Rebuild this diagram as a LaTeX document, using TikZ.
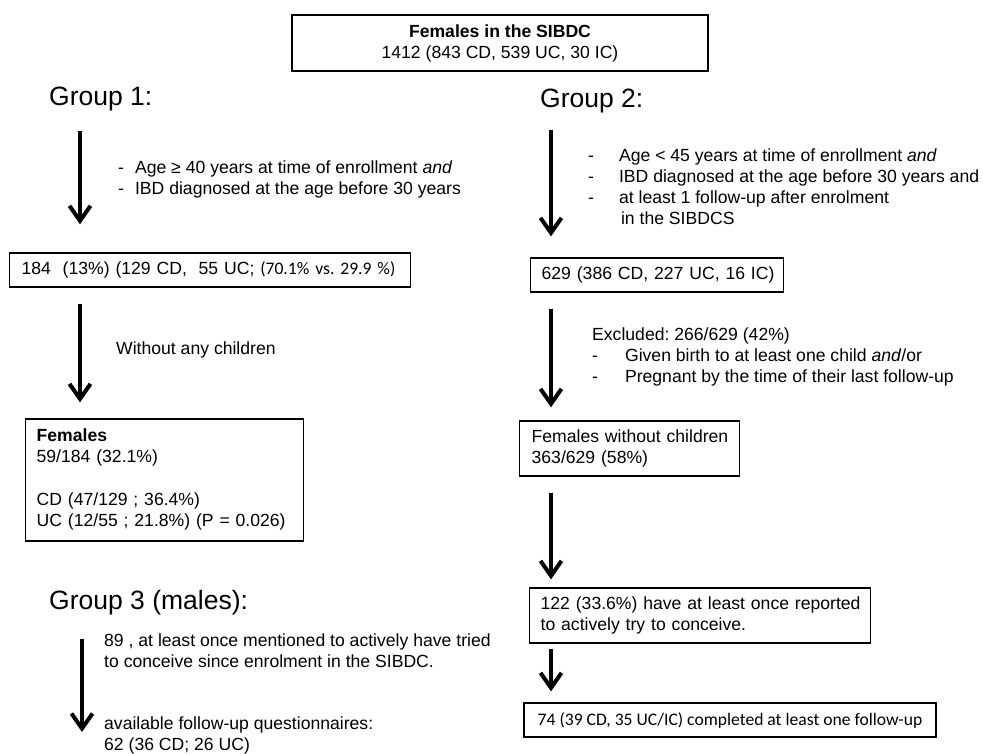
\documentclass[tikz,border=0pt]{standalone}
\usepackage{fontspec}
\setmainfont{Liberation Sans}
\newfontfamily\calibrifont{Carlito}
\usetikzlibrary{arrows.meta}
\frenchspacing

\tikzset{
  box/.style={draw, rectangle, line width=1.3pt, inner ysep=0pt, align=left},
  downarrow/.style={-{Straight Barb[length=15pt, width=21pt]}, line width=4pt},
  grouptitle/.style={anchor=west, inner sep=0pt, font=\fontsize{26.5}{32}\selectfont},
  note/.style={anchor=west, inner sep=0pt, align=left},
}

\begin{document}
\begin{tikzpicture}[x=1pt, y=-1pt, font=\fontsize{17.6}{21}\selectfont]

\useasboundingbox (0,0) rectangle (983,753);

\def \leftx {80}
\def \rightx {551}
\coordinate (leftcol) at (\leftx,0);
\coordinate (rightcol) at (\rightx,0);
\coordinate (malecol) at (82,0);

  \node[box, align=center, minimum width=416pt, minimum height=56pt] (sibdc) at (500,43)
    {\textbf{Females in the SIBDC}\\1412 (843 CD, 539 UC, 30 IC)};
%
  \node[grouptitle] (groupone) at (49,99) {Group 1:};
  \node[note] (critone) at (118,179.5) {\begin{tabular}{@{}l@{\hspace{11pt}}l@{}}
    - & Age ≥ 40 years at time of enrollment \textit{and}\\
    - & IBD diagnosed at the age before 30 years\end{tabular}};
  \node[box, anchor=west, text width=377pt, inner xsep=12pt, minimum height=34pt] (cohortone) at (9,270)
    {\begin{tabular}{@{}l@{}}184\ \ (13\%) (129 CD,\ \ 55 UC; {\calibrifont (70.1\% vs. 29.9 \%)}\end{tabular}};
  \node[note] (nochild) at (116,350) {Without any children};
  \node[box, anchor=west, text width=256pt, inner xsep=11pt, minimum height=122pt] (femone) at (25,480)
    {\begin{tabular}{@{}l@{}}\textbf{Females}\\59/184 (32.1\%)\\[22pt]
     CD (47/129 ; 36.4\%)\\UC (12/55 ; 21.8\%) (P = 0.026)\end{tabular}};
  \draw[downarrow, shorten <=20pt, shorten >=28pt] (groupone.south -| leftcol) -- (cohortone.north -| leftcol);
  \draw[downarrow, shorten <=16pt, shorten >=16pt] (cohortone.south -| leftcol) -- (femone.north -| leftcol);
%
  \node[grouptitle] (grouptwo) at (540,101) {Group 2:};
  \node[note] (crittwo) at (588,188.5) {\begin{tabular}{@{}l@{\hspace{25pt}}l@{}}
    - & Age < 45 years at time of enrollment \textit{and}\\
    - & IBD diagnosed at the age before 30 years and\\
    - & at least 1 follow-up after enrolment\\
      & \hspace{2pt}in the SIBDCS\end{tabular}};
  \node[box, anchor=west, text width=231pt, inner xsep=11pt, minimum height=34pt] (cohorttwo) at (530,275)
    {\begin{tabular}{@{}l@{}}629 (386 CD, 227 UC, 16 IC)\end{tabular}};
  \node[note] (excluded) at (592,357) {\begin{tabular}{@{}l@{\hspace{27pt}}l@{}}
    \multicolumn{2}{@{}l@{}}{Excluded: 266/629 (42\%)}\\
    - & Given birth to at least one child \textit{and}/or\\
    - & Pregnant by the time of their last follow-up\end{tabular}};
  \node[box, anchor=west, text width=196pt, inner xsep=12pt, minimum height=55pt] (femtwo) at (519,448.5)
    {\begin{tabular}{@{}l@{}}Females without children\\363/629 (58\%)\end{tabular}};
  \node[box, anchor=west, text width=319pt, inner xsep=11pt, minimum height=55pt] (tryers) at (529,615.5)
    {\begin{tabular}{@{}l@{}}122 (33.6\%) have at least once reported\\to actively try to conceive.\end{tabular}};
  \node[box, minimum width=412pt, minimum height=34pt] (followup) at (730,720)
    {\calibrifont 74 (39 CD, 35 UC/IC) completed at least one follow-up};
  \draw[downarrow, shorten <=16.5pt, shorten >=21pt] (grouptwo.south -| rightcol) -- (cohorttwo.north -| rightcol);
  \draw[downarrow, shorten <=16pt, shorten >=13pt] (cohorttwo.south -| rightcol) -- (femtwo.north -| rightcol);
  \draw[downarrow, shorten <=16pt, shorten >=8pt] (femtwo.south -| rightcol) -- (tryers.north -| rightcol);
  \draw[downarrow, shorten <=5pt, shorten >=11pt] (tryers.south -| rightcol) -- (followup.north -| rightcol);
%
  \node[grouptitle] (groupthree) at (49,602.5) {Group 3 (males):};
  \node[note] (tried) at (104,652.5) {\begin{tabular}{@{}l@{}}89 , at least once mentioned to actively have tried\\
    to conceive since enrolment in the SIBDC.\end{tabular}};
  \node[note] (males) at (104,736) {\begin{tabular}{@{}l@{}}available follow-up questionnaires:\\
    62 (36 CD; 26 UC)\end{tabular}};
  \draw[downarrow, shorten <=24pt, shorten >=4pt] (groupthree.south -| malecol) -- (males.west -| malecol);
%
\end{tikzpicture}
\end{document}
